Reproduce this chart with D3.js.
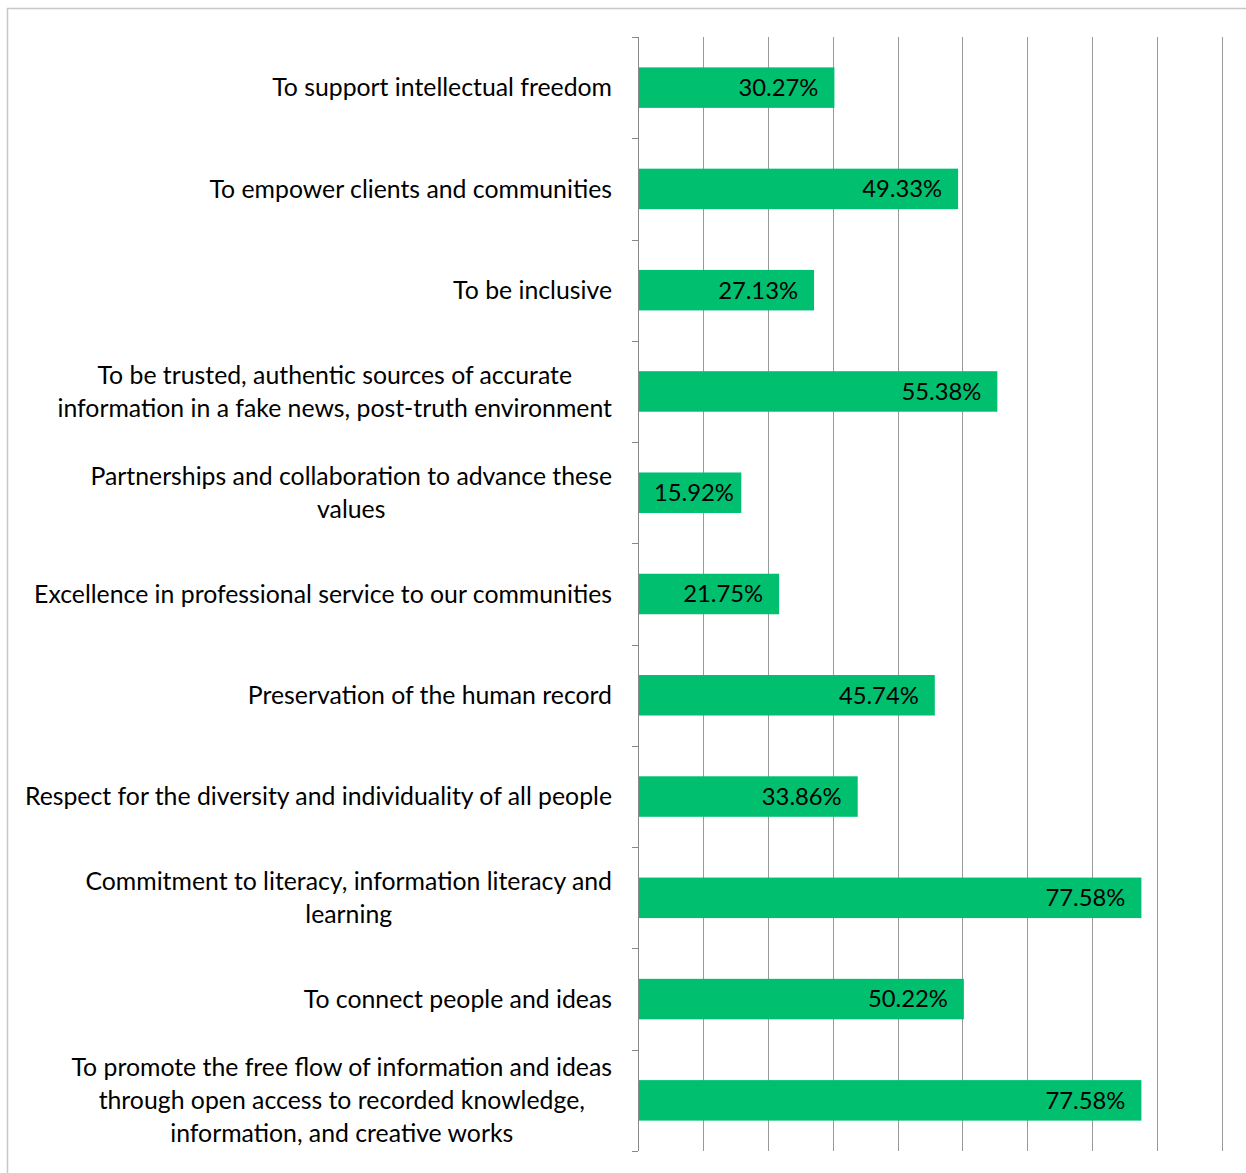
<!DOCTYPE html>
<html lang="en">
<head>
    <meta charset="UTF-8">
    <title></title>
    <script src="https://cdn.jsdelivr.net/npm/d3@7"></script>
    <style>
        body { margin: 0; background: #fff; }
        text { font-family: Lato, "Open Sans", sans-serif; }
    </style>
</head>
<body>
    <script>
        // categories (top to bottom), with explicit line breaks as in the picture
        var categories = [
            'To support intellectual freedom',
            'To empower clients and communities',
            'To be inclusive',
            'To be trusted, authentic sources of accurate\ninformation in a fake news, post-truth environment',
            'Partnerships and collaboration to advance these\nvalues',
            'Excellence in professional service to our communities',
            'Preservation of the human record',
            'Respect for the diversity and individuality of all people',
            'Commitment to literacy, information literacy and\nlearning',
            'To connect people and ideas',
            'To promote the free flow of information and ideas\nthrough open access to recorded knowledge,\ninformation, and creative works'
        ];
        var values = [30.27, 49.33, 27.13, 55.38, 15.92, 21.75, 45.74, 33.86, 77.58, 50.22, 77.58];
        var xTicks = [0, 10, 20, 30, 40, 50, 60, 70, 80, 90];

        var width = 1246,
            height = 1173,
            pLeft = 638,
            pRight = 1222,
            pTop = 37,
            pBottom = 1151;

        var svg = d3.select('body').append('svg')
            .attr('width', width)
            .attr('height', height);

        // outer border
        svg.append('rect')
            .attr('x', 7.5).attr('y', 8.5)
            .attr('width', width + 10).attr('height', height + 10)
            .attr('fill', 'none')
            .attr('stroke', '#c8c8c8')
            .attr('stroke-width', 1.5);

        var x = d3.scaleLinear().domain([0, 90]).range([pLeft, pRight]);
        var y = d3.scaleBand().domain(d3.range(categories.length)).range([pTop, pBottom]).paddingInner(0.6).paddingOuter(0.3);
        var yEdges = d3.scaleLinear().domain([0, categories.length]).range([pTop, pBottom]);

        // vertical gridlines
        svg.append('g').selectAll('line')
            .data(xTicks.slice(1))
            .enter().append('line')
            .attr('x1', function(d) { return Math.round(x(d)) + 0.5; })
            .attr('x2', function(d) { return Math.round(x(d)) + 0.5; })
            .attr('y1', pTop).attr('y2', pBottom)
            .attr('stroke', '#999')
            .attr('stroke-width', 1);

        // bars
        svg.append('g').selectAll('rect')
            .data(values)
            .enter().append('rect')
            .attr('x', x(0))
            .attr('y', function(d, i) { return y(i); })
            .attr('width', function(d) { return x(d) - x(0); })
            .attr('height', y.bandwidth())
            .attr('fill', '#00c070');

        // y axis line + ticks at category edges
        var ax = svg.append('g').attr('stroke', '#888').attr('stroke-width', 1);
        ax.append('line')
            .attr('x1', pLeft + 0.5).attr('x2', pLeft + 0.5)
            .attr('y1', pTop).attr('y2', pBottom);
        ax.selectAll('line.tk')
            .data(d3.range(categories.length + 1))
            .enter().append('line')
            .attr('class', 'tk')
            .attr('x1', pLeft - 6).attr('x2', pLeft)
            .attr('y1', function(d) { return Math.round(yEdges(d)) + 0.5; })
            .attr('y2', function(d) { return Math.round(yEdges(d)) + 0.5; });

        // category labels: block right-aligned at 612, lines centred within the block
        svg.append('g').selectAll('text')
            .data(categories)
            .enter().append('text')
            .attr('text-anchor', 'middle')
            .attr('font-size', 24.8)
            .attr('fill', '#000')
            .each(function(d, i) {
                var lines = d.split('\n');
                var cy = y(i) + y.bandwidth() / 2;
                var t = d3.select(this);
                var spans = lines.map(function(l, k) {
                    return t.append('tspan')
                        .attr('y', cy + (k - (lines.length - 1) / 2) * 33)
                        .attr('dy', '0.35em')
                        .text(l);
                });
                var maxW = d3.max(spans, function(s) { return s.node().getComputedTextLength(); });
                spans.forEach(function(s) { s.attr('x', 612 - maxW / 2); });
            });

        // value labels, inside end
        svg.append('g').selectAll('text')
            .data(values)
            .enter().append('text')
            .attr('text-anchor', 'end')
            .attr('font-size', 23.8)
            .attr('fill', '#000')
            .attr('y', function(d, i) { return y(i) + y.bandwidth() / 2; })
            .attr('dy', '0.35em')
            .text(function(d) { return d.toFixed(2) + '%'; })
            .attr('x', function(d) {
                var w = this.getComputedTextLength();
                return Math.max(x(d) - 16, x(0) + 16 + w);
            });
    </script>
</body>
</html>
